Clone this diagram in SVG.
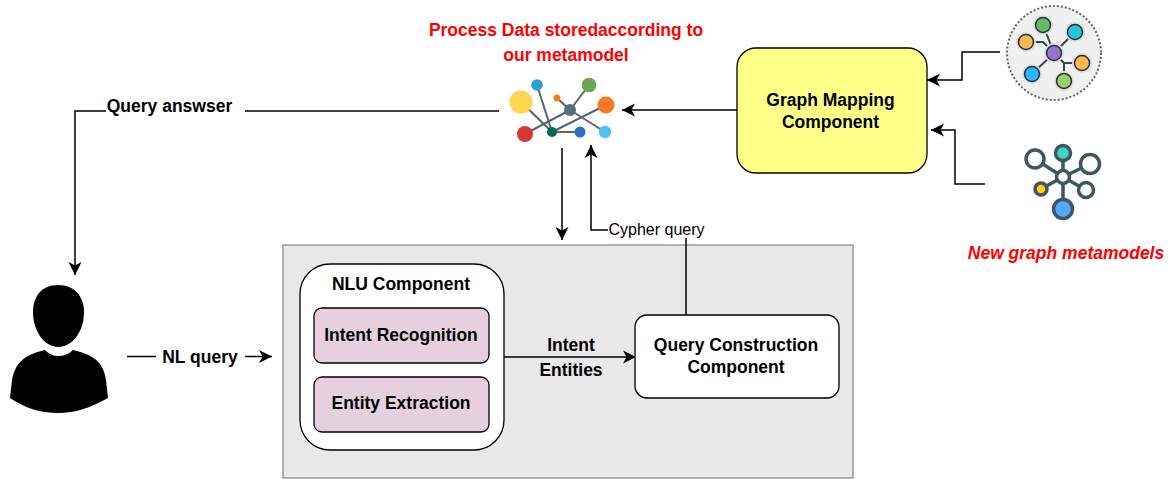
<svg xmlns="http://www.w3.org/2000/svg" width="1172" height="479" viewBox="0 0 1172 479">
<style>
text{font-family:"Liberation Sans",Arial,sans-serif;font-size:17.500px;font-weight:bold;fill:#000;text-anchor:middle}
.red{fill:#ff0000}
.c{fill:none;stroke:#000;stroke-width:1.500}
.box{stroke:#000;stroke-width:1.300}
.g1{stroke:#5b6468;stroke-width:2;fill:none}
.g2{stroke:#37474f;stroke-width:2;fill:none}
.g3{stroke:#3e5564;stroke-width:3.500}
</style>
<defs>
<marker id="a" markerUnits="userSpaceOnUse" markerWidth="15" markerHeight="15" refX="13" refY="7" orient="auto"><path d="M0,0.500 L13,7 L0,13.500 L3.500,7 Z" fill="#000"/></marker>
</defs>
<rect width="1172" height="479" fill="#fff"/>
<g id="container"><rect x="283" y="245" width="570" height="233" fill="#e8e8e8" stroke="#8c8c8c" stroke-width="1.300"/></g>
<g id="connectors">
<path class="c" d="M245 111H499"/>
<path class="c" d="M106 111H75V275" marker-end="url(#a)"/>
<path class="c" d="M737 110H622" marker-end="url(#a)"/>
<path class="c" d="M1000 52H962V80H927" marker-end="url(#a)"/>
<path class="c" d="M985 184H955V130H931" marker-end="url(#a)"/>
<path class="c" d="M562 148V240" marker-end="url(#a)"/>
<path class="c" d="M686 315V230H591V145" marker-end="url(#a)"/>
<path class="c" d="M127 356.500H156"/>
<path class="c" d="M245 356.500H272" marker-end="url(#a)"/>
<path class="c" d="M504 357H636" marker-end="url(#a)"/>
</g>
<g id="label-cypher"><rect x="608" y="222" width="98" height="16" fill="#fff"/><text x="656.500" y="235" style="font-size:16px;font-weight:normal">Cypher query</text></g>
<g id="label-answer"><text x="169.500" y="112">Query answser</text></g>
<g id="label-nl"><text x="200" y="363">NL query</text></g>
<g id="label-intent"><text x="571" y="351">Intent</text><text x="571" y="376">Entities</text></g>
<g id="label-process"><text class="red" x="566" y="36">Process Data storedaccording to</text><text class="red" x="566" y="61">our metamodel</text></g>
<g id="label-new"><text class="red" x="1066" y="259" style="font-style:italic">New graph metamodels</text></g>
<g id="graph-mapping"><rect class="box" x="737" y="48" width="190" height="125" rx="19" fill="#ffff88"/><text x="830.500" y="106">Graph Mapping</text><text x="830.500" y="128">Component</text></g>
<g id="nlu"><rect class="box" x="300" y="264" width="204" height="186" rx="30" fill="#fff"/><text x="401" y="290">NLU Component</text></g>
<g id="intent"><rect class="box" x="314" y="308" width="175" height="55" rx="8" fill="#e6d0de"/><text x="401" y="341">Intent Recognition</text></g>
<g id="entity"><rect class="box" x="314" y="377" width="175" height="55" rx="8" fill="#e6d0de"/><text x="401" y="409">Entity Extraction</text></g>
<g id="query-construction"><rect class="box" x="635" y="315" width="204" height="83" rx="12" fill="#fff"/><text x="736" y="351">Query Construction</text><text x="736" y="373">Component</text></g>
<g id="data-graph">
<path class="g1" d="M521 102L552 132M537 85L552 132M525 134L570 110M552 132L606 105M552 132L580 132M557 98L570 110M589 85L570 110M570 110L605 132"/>
<circle cx="521" cy="102" r="11.500" fill="#ffd54f"/><circle cx="537" cy="85" r="5.800" fill="#29a0dc"/><circle cx="557" cy="98" r="3.500" fill="#f47b20"/><circle cx="589" cy="85" r="7.300" fill="#6aa84f"/><circle cx="570" cy="110" r="6" fill="#546e7a"/><circle cx="606" cy="105" r="8.500" fill="#f77722"/><circle cx="525" cy="134" r="8" fill="#d93636"/><circle cx="552" cy="132" r="5" fill="#00695c"/><circle cx="580" cy="132" r="5.500" fill="#2f6fbe"/><circle cx="605" cy="132" r="6.200" fill="#4fc3f0"/>
</g>
<g id="source-graph">
<circle cx="1054" cy="53" r="47" fill="#f0f0f0" stroke="#666" stroke-width="2" stroke-dasharray="2 2"/>
<path class="g2" d="M1054 53L1043 25M1026 42H1043L1054 53M1054 53L1075 32M1054 53L1032 74M1054 53L1064 63V81M1064 63H1082"/>
<g fill="#dcdcdc"><circle cx="1043" cy="25" r="10"/><circle cx="1026" cy="42" r="10"/><circle cx="1075" cy="32" r="10"/><circle cx="1054" cy="53" r="10"/><circle cx="1082" cy="63" r="10"/><circle cx="1032" cy="74" r="10"/><circle cx="1064" cy="81" r="10"/></g>
<g stroke="#263238" stroke-width="1.500"><circle cx="1043" cy="25" r="7.500" fill="#66bb6a"/><circle cx="1026" cy="42" r="7.500" fill="#ffb74d"/><circle cx="1075" cy="32" r="7.500" fill="#26c6da"/><circle cx="1054" cy="53" r="7.500" fill="#9575cd"/><circle cx="1082" cy="63" r="7.500" fill="#ffb74d"/><circle cx="1032" cy="74" r="7.500" fill="#29b6f6"/><circle cx="1064" cy="81" r="7.500" fill="#9ccc65"/></g>
</g>
<g id="metamodel-graph">
<path class="g3" d="M1063 177L1035 159M1063 177V153M1063 177L1090 164M1063 177L1086 190M1063 177L1041 189M1063 177V209"/>
<g class="g3"><circle cx="1063" cy="177" r="6.500" fill="#fff"/><circle cx="1035" cy="159" r="9" fill="#fff"/><circle cx="1063" cy="153" r="7.500" fill="#3fd6c0"/><circle cx="1090" cy="164" r="9.500" fill="#fff"/><circle cx="1086" cy="190" r="7.500" fill="#fff"/><circle cx="1041" cy="189" r="6" fill="#ffd400"/><circle cx="1063" cy="209" r="9.500" fill="#55a9ff"/></g>
</g>
<g id="user">
<path d="M58 285C42 285 33 296 33 312C33 332 45 347 58 347C72 347 84 332 84 312C84 296 74 285 58 285Z" fill="#000"/>
<path d="M45 350C49 354 53 356 58 356C64 356 69 354 73 350C88 354 103 358 106 380L108 398C90 408 75 413 58 413C40 413 25 408 10 398L12 380C16 358 30 354 45 350Z" fill="#000"/>
</g>
</svg>
